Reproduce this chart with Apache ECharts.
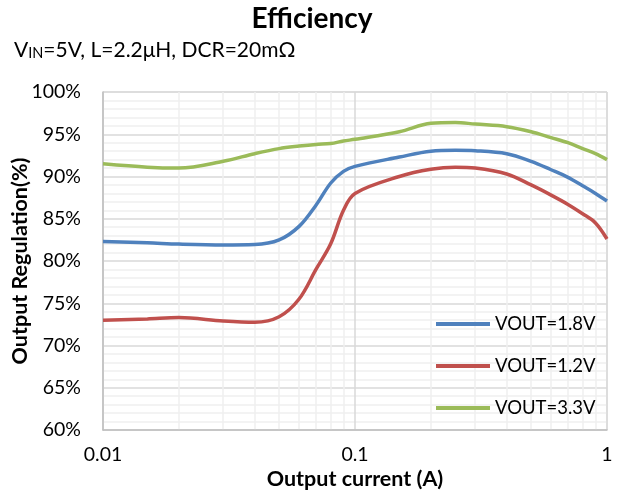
<!DOCTYPE html>
<html><head><meta charset="utf-8">
<script src="https://cdn.jsdelivr.net/npm/echarts@6/dist/echarts.min.js"></script>
<style>html,body{margin:0;padding:0;background:#fff}#c{width:624px;height:498px}</style>
</head><body><div id="c"></div>
<script>
var currents = [0.01, 0.015, 0.02, 0.03, 0.04, 0.05, 0.06, 0.07, 0.08, 0.09, 0.1, 0.15, 0.2, 0.25, 0.3, 0.4, 0.5, 0.6, 0.7, 0.8, 0.9, 1];
var vout18 = [82.3, 82.15, 82.0, 81.9, 81.95, 82.5, 84.1, 86.6, 89.2, 90.6, 91.2, 92.3, 93.0, 93.1, 93.05, 92.7, 91.8, 90.8, 89.9, 88.9, 88.0, 87.1];
var vout12 = [73.0, 73.15, 73.3, 72.9, 72.75, 73.4, 75.5, 79.0, 82.0, 86.0, 88.0, 90.0, 90.85, 91.1, 91.0, 90.3, 89.0, 87.8, 86.7, 85.6, 84.5, 82.6];
var vout33 = [91.5, 91.1, 91.0, 91.8, 92.7, 93.3, 93.6, 93.8, 93.9, 94.2, 94.4, 95.3, 96.3, 96.4, 96.2, 95.9, 95.3, 94.6, 94.0, 93.3, 92.7, 92.0];
var seriesNames = ['VOUT=1.8V', 'VOUT=1.2V', 'VOUT=3.3V'];
var minorX = [0.02, 0.03, 0.04, 0.05, 0.06, 0.07, 0.08, 0.09, 0.2, 0.3, 0.4, 0.5, 0.6, 0.7, 0.8, 0.9];

var FONT = 'Lato';
function pairs(v){ return currents.map(function(c,i){ return [c, v[i]]; }); }
var colors = ['#4F81BD', '#C0504D', '#9BBB59'];
var vals = [vout18, vout12, vout33];
var series = vals.map(function(v, i){
  return {
    name: seriesNames[i], type: 'line', data: pairs(v), smooth: 0.35,
    showSymbol: false, symbol: 'none', z: 5,
    lineStyle: { color: colors[i], width: 3.5 }, itemStyle: { color: colors[i] }
  };
});
series.unshift({
  type: 'line', data: [], silent: true, z: 0,
  markLine: {
    silent: true, symbol: 'none', z: 0, label: { show: false }, animation: false,
    lineStyle: { color: '#efefef', width: 1.5, type: 'solid' },
    emphasis: { disabled: true },
    data: minorX.map(function(x){ return { xAxis: x }; })
  }
});

var chart = echarts.init(document.getElementById('c'));
chart.setOption({
  animation: false,
  title: [{
    text: 'Efficiency', left: 'center', top: 0,
    textStyle: { fontFamily: FONT, fontSize: 28, fontWeight: 'bold', color: '#000' }
  }, {
    text: 'V{s|IN}=5V, L=2.2μH, DCR=20mΩ', left: 9, top: 35,
    textStyle: { fontFamily: FONT, fontSize: 21, fontWeight: 'normal', color: '#000',
      rich: { s: { fontFamily: FONT, fontSize: 14.5, verticalAlign: 'bottom', padding: [6, 0, 0, 0], color: '#000' } } }
  }],
  grid: { left: 103, right: 17, top: 92, bottom: 68, show: true, borderColor: '#d9d9d9', borderWidth: 1,
    containLabel: false, outerBoundsMode: 'none' },
  legend: {
    orient: 'vertical', left: 431, top: 308, itemGap: 20, itemWidth: 54, itemHeight: 4,
    icon: 'rect', data: seriesNames,
    textStyle: { fontFamily: FONT, fontSize: 18.5, lineHeight: 22, color: '#000' }
  },
  xAxis: {
    type: 'log', logBase: 10, min: 0.01, max: 1,
    name: 'Output current (A)', nameLocation: 'middle', nameGap: 38, nameMoveOverlap: false,
    nameTextStyle: { fontFamily: FONT, fontSize: 21.5, fontWeight: 'bold', color: '#000' },
    axisLine: { show: true, lineStyle: { color: '#bfbfbf', width: 1.5 } },
    axisTick: { show: false },
    axisLabel: { fontFamily: FONT, fontSize: 19.5, color: '#000', margin: 15,
      formatter: function(v){ return String(+v.toPrecision(3)); } },
    splitLine: { show: true, lineStyle: { color: '#d9d9d9', width: 1.5 } }
  },
  yAxis: {
    type: 'value', min: 60, max: 100, interval: 5,
    name: 'Output Regulation(%)', nameLocation: 'middle', nameGap: 72, nameMoveOverlap: false,
    nameTextStyle: { fontFamily: FONT, fontSize: 21.5, fontWeight: 'bold', color: '#000' },
    axisLine: { show: true, lineStyle: { color: '#bfbfbf', width: 1.5 } },
    axisTick: { show: false },
    axisLabel: { fontFamily: FONT, fontSize: 19.5, color: '#000', margin: 22, formatter: '{value}%' },
    splitLine: { show: true, lineStyle: { color: '#d9d9d9', width: 1.5 } },
    minorTick: { show: false, splitNumber: 5 },
    minorSplitLine: { show: true, lineStyle: { color: '#efefef', width: 1.5 } }
  },
  series: series
});
</script>
</body></html>
